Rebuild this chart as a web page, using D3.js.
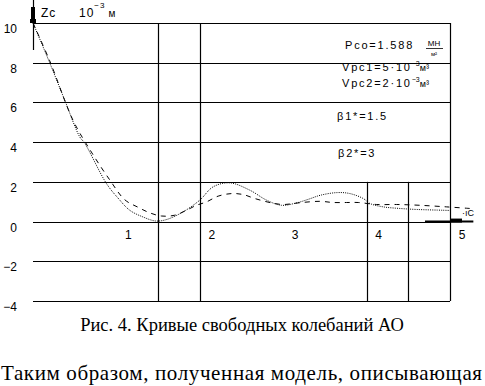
<!DOCTYPE html>
<html><head><meta charset="utf-8">
<script src="https://cdn.jsdelivr.net/npm/d3@7"></script>
<style>
html,body{margin:0;padding:0;background:#fff;}
svg{display:block;}
</style></head>
<body>
<script>
const yTicks = [-4,-2,0,2,4,6,8,10];
const yTickLabels = ["−4","−2","0","2","4","6","8","10"];
const xTicks = [1,2,3,4,5];
const xTickLabels = ["1","2","3","4","5"];
const solidX = [0,0.2,0.38,0.56,0.62,0.88,1.02,1.16,1.32,1.47,1.6,1.8,2.0,2.16,2.36,2.6,2.8,2.98,3.16,3.3,3.45,3.65,3.8,3.96,4.04,4.2,4.4,4.6,4.92,5.0];
const solidY = [10,8.0,6.12,4.27,3.95,1.92,1.18,0.57,0.23,0.03,0.1,0.49,1.08,1.75,1.95,1.58,1.08,0.82,0.94,1.12,1.33,1.46,1.41,1.16,0.91,0.74,0.66,0.61,0.57,0.56];
const dashedX = [0,0.2,0.48,0.70,0.92,1.10,1.26,1.40,1.54,1.70,1.84,1.96,2.08,2.22,2.38,2.52,2.66,2.85,3.0,3.2,3.44,3.6,3.76,3.9,4.12,4.36,4.64,4.96,5.24];
const dashedY = [10,8.1,5.1,3.5,2.1,1.1,0.72,0.44,0.28,0.32,0.57,0.82,0.99,1.28,1.41,1.36,1.16,0.95,0.86,0.95,1.02,0.96,0.96,0.96,0.86,0.86,0.82,0.74,0.66];
const fullVLines = [1.5,2,5];
const partVLines = [4,4.5];
const notes = ["Pco=1.588","Vpc1=5·10","Vpc2=2·10","β1*=1.5","β2*=3"];

const W=485,H=386;
const svg=d3.select("body").append("svg").attr("width",W).attr("height",H);
const x=d3.scaleLinear().domain([0,5]).range([33,450]);
const y=d3.scaleLinear().domain([-4,10]).range([301,23]);
const font="'Liberation Sans', Arial, sans-serif";
const serif="'Liberation Serif','Times New Roman',serif";

// horizontal grid
svg.append("g").selectAll("line").data(yTicks).join("line")
  .attr("x1",x(0)).attr("x2",x(5)).attr("y1",d=>Math.round(y(d))+0.5).attr("y2",d=>Math.round(y(d))+0.5)
  .attr("stroke","#000").attr("stroke-width",1.2);
// vertical lines
svg.append("g").selectAll("line").data(fullVLines).join("line")
  .attr("x1",d=>Math.round(x(d))+0.5).attr("x2",d=>Math.round(x(d))+0.5).attr("y1",y(10)).attr("y2",y(-4))
  .attr("stroke","#000").attr("stroke-width",1.2);
svg.append("g").selectAll("line").data(partVLines).join("line")
  .attr("x1",d=>Math.round(x(d))+0.5).attr("x2",d=>Math.round(x(d))+0.5).attr("y1",y(2)).attr("y2",y(-4))
  .attr("stroke","#000").attr("stroke-width",1.2);
// y axis stub
svg.append("line").attr("x1",33.5).attr("x2",33.5).attr("y1",0).attr("y2",50).attr("stroke","#000").attr("stroke-width",1.2);
svg.append("rect").attr("x",31).attr("y",7).attr("width",4).attr("height",16).attr("fill","#000");
svg.append("rect").attr("x",30).attr("y",19).attr("width",6).attr("height",4).attr("fill","#000");
// thick end segment on zero line
svg.append("line").attr("x1",x(4.7)).attr("x2",x(5.28)).attr("y1",y(0)).attr("y2",y(0)).attr("stroke","#000").attr("stroke-width",2);
svg.append("rect").attr("x",x(5)).attr("y",y(0)-3).attr("width",12).attr("height",4).attr("fill","#000");

// y tick labels
svg.append("g").selectAll("text").data(yTicks).join("text")
  .attr("x",17).attr("y",d=>y(d)+10).attr("text-anchor","end")
  .attr("font-family",font).attr("font-size",12).attr("fill","#000")
  .text((d,i)=>yTickLabels[i]);
// x tick labels
svg.append("g").selectAll("text").data(xTicks).join("text")
  .attr("x",d=>x(d)+12).attr("y",y(0)+17).attr("text-anchor","middle")
  .attr("font-family",font).attr("font-size",12).attr("fill","#000")
  .text((d,i)=>xTickLabels[i]);

// curves
const line=d3.line().x(d=>x(d[0])).y(d=>y(d[1])).curve(d3.curveCatmullRom);
svg.append("path").attr("d",line(solidX.map((v,i)=>[v,solidY[i]])))
  .attr("fill","none").attr("stroke","#000").attr("stroke-width",1).attr("stroke-dasharray","1,1.2");
svg.append("path").attr("d",line(dashedX.map((v,i)=>[v,dashedY[i]])))
  .attr("fill","none").attr("stroke","#000").attr("stroke-width",1).attr("stroke-dasharray","5,5");

// axis title
const t=svg.append("text").attr("x",41).attr("y",17).attr("font-family",font).attr("font-size",12).attr("fill","#000").attr("letter-spacing",1);
t.append("tspan").text("Zc");
t.append("tspan").attr("x",79).text("10");
t.append("tspan").attr("dy",-9).attr("font-size",8).text("−3");
t.append("tspan").attr("dy",9).attr("dx",3).attr("font-size",10).text("м");

// notes
function note(str,xx,yy){return svg.append("text").attr("x",xx).attr("y",yy).attr("font-family",font).attr("font-size",11).attr("letter-spacing",1.8).attr("fill","#000").text(str);}
note(notes[0],345,49);
svg.append("text").attr("x",434).attr("y",46).attr("text-anchor","middle").attr("font-family",font).attr("font-size",8).text("МН");
svg.append("line").attr("x1",426).attr("x2",443).attr("y1",48.5).attr("y2",48.5).attr("stroke","#000").attr("stroke-width",0.8);
svg.append("text").attr("x",434).attr("y",56).attr("text-anchor","middle").attr("font-family",font).attr("font-size",6).text("м²");
const n2=note(notes[1],342,71); n2.append("tspan").attr("dy",-5).attr("font-size",7).attr("letter-spacing",0).text("−3"); n2.append("tspan").attr("dy",5).attr("font-size",9).attr("letter-spacing",0).text("м³");
const n3=note(notes[2],342,87); n3.append("tspan").attr("dy",-5).attr("font-size",7).attr("letter-spacing",0).text("−3"); n3.append("tspan").attr("dy",5).attr("font-size",9).attr("letter-spacing",0).text("м³");
note(notes[3],337,120);
note(notes[4],338,157);

// small end label
svg.append("text").attr("x",462).attr("y",216).attr("font-family",font).attr("font-size",9).text("·ıC");

// caption
svg.append("text").attr("x",242).attr("y",331).attr("text-anchor","middle")
  .attr("font-family",serif).attr("font-size",18.5).attr("fill","#000")
  .text("Рис. 4. Кривые свободных колебаний АО");
svg.append("text").attr("x",1).attr("y",380)
  .attr("font-family",serif).attr("font-size",21).attr("fill","#000")
  .attr("textLength",481).attr("lengthAdjust","spacing")
  .text("Таким образом, полученная модель, описывающая");
</script>
</body></html>
